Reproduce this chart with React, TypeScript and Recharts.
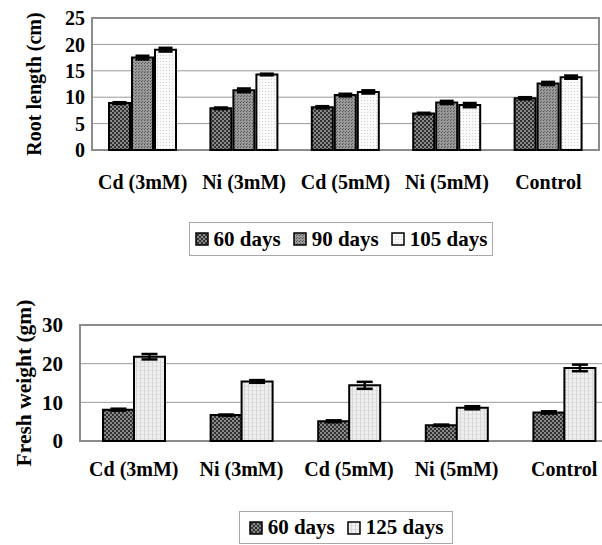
import React from 'react';
import { BarChart, Bar, XAxis, YAxis, CartesianGrid, ErrorBar, ReferenceArea } from 'recharts';

// categories and values
const categories = ['Cd (3mM)', 'Ni (3mM)', 'Cd (5mM)', 'Ni (5mM)', 'Control'];
const boundaryTicks = [1, 2, 3, 4];

const rootTicks = [0, 5, 10, 15, 20, 25];
const root60 = [8.9, 7.9, 8.1, 6.9, 9.8];
const root90 = [17.5, 11.3, 10.4, 9.0, 12.6];
const root105 = [19.0, 14.3, 11.0, 8.5, 13.8];
const root60Err = [0.15, 0.15, 0.2, 0.15, 0.2];
const root90Err = [0.35, 0.35, 0.25, 0.3, 0.3];
const root105Err = [0.35, 0.15, 0.3, 0.4, 0.3];

const weightTicks = [0, 10, 20, 30];
const weight60 = [8.1, 6.7, 5.1, 4.1, 7.4];
const weight125 = [21.8, 15.4, 14.4, 8.6, 18.9];
const weight60Err = [0.25, 0.15, 0.25, 0.15, 0.3];
const weight125Err = [0.7, 0.35, 0.9, 0.4, 0.85];

const rootSeries = ['60 days', '90 days', '105 days'];
const weightSeries = ['60 days', '125 days'];

const rootData = categories.map((name, i) => ({
  name,
  d60: root60[i],
  d90: root90[i],
  d105: root105[i],
  e60: root60Err[i],
  e90: root90Err[i],
  e105: root105Err[i],
}));

const weightData = categories.map((name, i) => ({
  name,
  d60: weight60[i],
  d125: weight125[i],
  e60: weight60Err[i],
  e125: weight125Err[i],
}));

const font = "'Liberation Serif', 'Times New Roman', serif";
const tickStyle = { fontFamily: font, fontWeight: 'bold', fontSize: 20, fill: '#000' };

const Patterns = () => (
  <defs>
    <pattern id="pat60" width="4" height="4" patternUnits="userSpaceOnUse">
      <rect width="4" height="4" fill="#8a8a8a" />
      <rect x="0" y="0" width="2" height="2" fill="#303030" />
      <rect x="2" y="2" width="2" height="2" fill="#303030" />
    </pattern>
    <pattern id="pat90" width="3" height="3" patternUnits="userSpaceOnUse">
      <rect width="3" height="3" fill="#9a9a9a" />
      <rect x="0" y="0" width="1" height="1" fill="#505050" />
      <rect x="1" y="2" width="1" height="1" fill="#606060" />
    </pattern>
    <pattern id="pat105" width="3" height="3" patternUnits="userSpaceOnUse">
      <rect width="3" height="3" fill="#fafafa" />
      <rect x="1" y="1" width="1" height="1" fill="#cfcfcf" />
    </pattern>
    <pattern id="pat125" width="4" height="4" patternUnits="userSpaceOnUse">
      <rect width="4" height="4" fill="#f0f0f0" />
      <rect x="0" y="0" width="1" height="4" fill="#d4d4d4" />
      <rect x="0" y="0" width="4" height="1" fill="#dedede" />
    </pattern>
  </defs>
);

const LegendBox: React.FC<{ names: string[]; fills: string[]; left: number; top: number; width: number; height: number }> = ({
  names, fills, left, top, width, height,
}) => (
  <div
    style={{
      position: 'absolute', left, top, width, height, boxSizing: 'border-box',
      border: '1px solid #a8a8a8', display: 'flex', alignItems: 'center', justifyContent: 'center',
      fontFamily: font, fontWeight: 'bold', fontSize: 21, color: '#000', whiteSpace: 'nowrap',
    }}
  >
    {names.map((n, i) => (
      <div key={n} style={{ display: 'flex', alignItems: 'center', marginLeft: i === 0 ? 0 : 12 }}>
        <svg width="14" height="14" style={{ marginRight: 5 }}>
          <rect x="1" y="1" width="12" height="12" fill={fills[i]} stroke="#000" strokeWidth="1.5" />
        </svg>
        <span>{n}</span>
      </div>
    ))}
  </div>
);

export default function App() {
  return (
    <div style={{ position: 'absolute', left: 0, top: 0, width: 602, height: 545, overflow: 'hidden', background: '#fff' }}>
      <div style={{ position: 'absolute', left: 0, top: 0 }}>
        <BarChart width={602} height={200} data={rootData} margin={{ top: 18, right: 3, bottom: 0, left: 0 }} barSize={21} barGap={2}>
          <Patterns />
          <CartesianGrid vertical={false} stroke="#9a9a9a" />
          <XAxis xAxisId="edge" type="number" domain={[0, 5]} ticks={boundaryTicks} height={6} tick={false} axisLine={false} tickSize={6} tickLine={{ stroke: '#8c8c8c' }} />
          <XAxis dataKey="name" height={44} axisLine={false} tickLine={false} tickSize={0} tickMargin={25} tick={tickStyle} interval={0} />
          <YAxis
            width={92}
            domain={[0, 25]}
            ticks={rootTicks}
            interval={0}
            axisLine={false}
            tickLine={false}
            tickSize={0}
            tickMargin={7}
            tick={tickStyle}
            label={{ value: 'Root length (cm)', angle: -90, position: 'insideLeft', offset: 34, style: { ...tickStyle, textAnchor: 'middle' } }}
          />
          <ReferenceArea y1={0} y2={25} fill="none" stroke="#8c8c8c" strokeWidth={2} />
          <Bar dataKey="d60" name={rootSeries[0]} fill="url(#pat60)" stroke="#000" strokeWidth={2} isAnimationActive={false}>
            <ErrorBar dataKey="e60" width={7} stroke="#000" strokeWidth={2.5} />
          </Bar>
          <Bar dataKey="d90" name={rootSeries[1]} fill="url(#pat90)" stroke="#000" strokeWidth={2} isAnimationActive={false}>
            <ErrorBar dataKey="e90" width={7} stroke="#000" strokeWidth={2.5} />
          </Bar>
          <Bar dataKey="d105" name={rootSeries[2]} fill="url(#pat105)" stroke="#000" strokeWidth={2} isAnimationActive={false}>
            <ErrorBar dataKey="e105" width={7} stroke="#000" strokeWidth={2.5} />
          </Bar>
        </BarChart>
      </div>
      <LegendBox names={rootSeries} fills={['url(#pat60)', 'url(#pat90)', 'url(#pat105)']} left={189} top={222} width={304} height={34} />

      <div style={{ position: 'absolute', left: 0, top: 290 }}>
        <BarChart width={620} height={201} data={weightData} margin={{ top: 35, right: 2, bottom: 0, left: 0 }} barSize={31} barGap={0}>
          <CartesianGrid vertical={false} stroke="#9a9a9a" />
          <XAxis xAxisId="edge" type="number" domain={[0, 5]} ticks={boundaryTicks} height={6} tick={false} axisLine={false} tickSize={6} tickLine={{ stroke: '#8c8c8c' }} />
          <XAxis dataKey="name" height={44} axisLine={false} tickLine={false} tickSize={0} tickMargin={21} tick={tickStyle} interval={0} />
          <YAxis
            width={80}
            domain={[0, 30]}
            ticks={weightTicks}
            interval={0}
            axisLine={false}
            tickLine={false}
            tickSize={0}
            tickMargin={17}
            tick={{ ...tickStyle, fontSize: 21 }}
            label={{ value: 'Fresh weight (gm)', angle: -90, position: 'insideLeft', offset: 23, style: { ...tickStyle, fontSize: 21.5, textAnchor: 'middle' } }}
          />
          <ReferenceArea y1={0} y2={30} fill="none" stroke="#8c8c8c" strokeWidth={2} />
          <Bar dataKey="d60" name={weightSeries[0]} fill="url(#pat60)" stroke="#000" strokeWidth={2} isAnimationActive={false}>
            <ErrorBar dataKey="e60" width={8} stroke="#000" strokeWidth={2.5} />
          </Bar>
          <Bar dataKey="d125" name={weightSeries[1]} fill="url(#pat125)" stroke="#000" strokeWidth={2} isAnimationActive={false}>
            <ErrorBar dataKey="e125" width={8} stroke="#000" strokeWidth={2.5} />
          </Bar>
        </BarChart>
      </div>
      <LegendBox names={weightSeries} fills={['url(#pat60)', 'url(#pat125)']} left={239} top={511} width={214} height={33} />
    </div>
  );
}
